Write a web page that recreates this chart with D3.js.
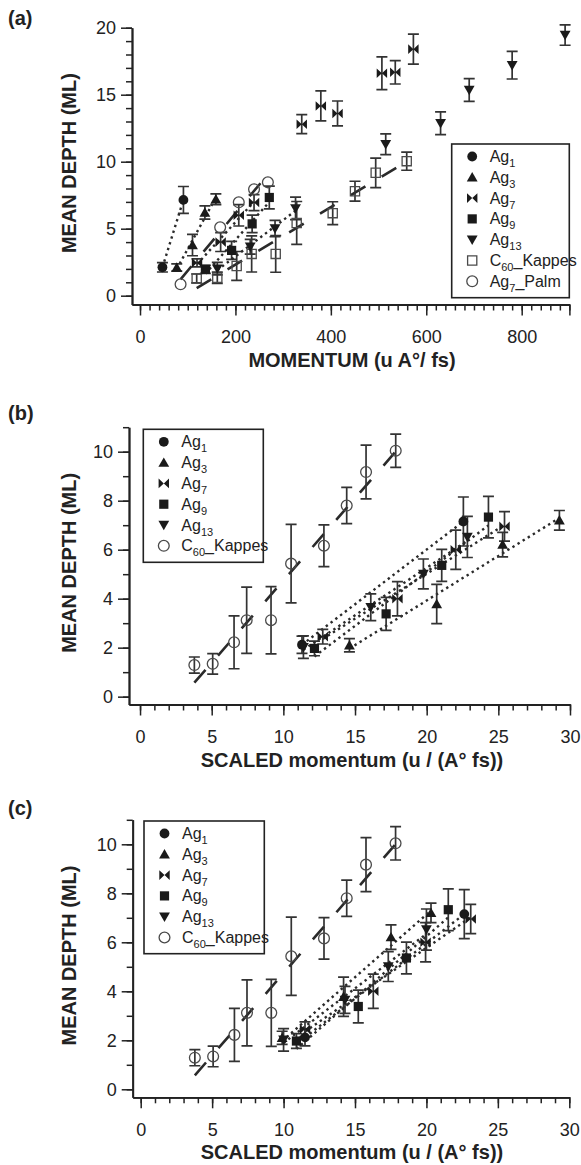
<!DOCTYPE html>
<html lang="en">
<head>
<meta charset="utf-8">
<script src="https://d3js.org/d3.v7.min.js"></script>
<style>
  body { margin: 0; background: #fff; }
  svg text { font-family: "Liberation Sans", Arial, sans-serif; fill: #222; }
</style>
</head>
<body>
<div id="chart"></div>
<script>

// ---------- data ----------

// mean depth (ML) and its error, same in all three panels
const depthAg1 = [2.12, 7.15];
const errAg1   = [0.35, 1.0];
const depthAg3 = [2.1, 3.78, 6.21, 7.2];
const errAg3   = [0.27, 0.8, 0.5, 0.4];
const depthAg7 = [2.45, 4.0, 6.0, 6.95];
const errAg7   = [0.3, 0.7, 0.8, 0.6];
const depthAg9 = [1.97, 3.38, 5.36, 7.33];
const errAg9   = [0.3, 0.67, 0.65, 0.85];
const depthAg13 = [2.02, 3.65, 5.01, 6.52];
const errAg13   = [0.46, 0.55, 0.61, 0.84];
const depthC60 = [1.29, 1.34, 2.22, 3.12, 3.12, 5.43, 6.16, 7.8, 9.17, 10.04];
const errC60   = [0.33, 0.42, 1.08, 1.35, 1.37, 1.6, 0.85, 0.74, 1.1, 0.68];

// panel (a): momentum (u A°/fs)
const momAg1  = [47, 91];
const momAg3  = [77, 110, 136, 159];
const momAg7  = [119.5, 169, 207, 239];
const momAg9  = [137, 192, 235, 271];
const momAg13 = [162, 231, 283, 326];
const momC60  = [118.8, 162, 202.6, 234, 284.4, 328.4, 403.9, 450.6, 494, 559];
// panel (a) only: high-momentum Ag7 / Ag13 points and Ag7_Palm
const momAg7High   = [339, 379, 414, 507, 535, 573];
const depthAg7High = [12.8, 14.16, 13.6, 16.6, 16.67, 18.4];
const errAg7High   = [0.71, 1.12, 0.93, 1.22, 0.87, 1.12];
const momAg13High   = [515, 630, 690, 780, 891];
const depthAg13High = [11.3, 12.87, 15.35, 17.2, 19.45];
const errAg13High   = [0.77, 0.85, 0.85, 1.03, 0.76];
const momPalm   = [85, 168, 207, 239, 268];
const depthPalm = [0.85, 5.1, 6.97, 7.94, 8.46];

// panel (b): scaled momentum
const scaledB_Ag1  = [11.3, 22.56];
const scaledB_Ag3  = [14.61, 20.7, 25.3, 29.26];
const scaledB_Ag7  = [12.75, 17.96, 22.03, 25.43];
const scaledB_Ag9  = [12.17, 17.17, 21.05, 24.31];
const scaledB_Ag13 = [11.4, 16.1, 19.77, 22.84];
const scaledC60    = [3.79, 5.07, 6.56, 7.44, 9.14, 10.54, 12.83, 14.42, 15.77, 17.84];

// panel (c): scaled momentum
const scaledC_Ag1  = [11.5, 22.65];
const scaledC_Ag3  = [9.9, 14.2, 17.52, 20.32];
const scaledC_Ag7  = [11.5, 16.28, 19.94, 23.1];
const scaledC_Ag9  = [10.9, 15.23, 18.6, 21.53];
const scaledC_Ag13 = [10.0, 14.3, 17.33, 20.0];

// axis ticks
const xTicksA = [0, 200, 400, 600, 800, 900];
const yTicksA = [0, 5, 10, 15, 20];
const xTicksBC = [0, 5, 10, 15, 20, 25, 30];
const yTicksBC = [0, 2, 4, 6, 8, 10];

// legend entries: base text, subscript, tail
const legendBase = ["Ag", "Ag", "Ag", "Ag", "Ag", "C", "Ag"];
const legendSub  = ["1", "3", "7", "9", "13", "60", "7"];
const legendTail = ["", "", "", "", "", "_Kappes", "_Palm"];
const legendShapeA  = ["circle", "triUp", "bowtie", "square", "triDown", "openSquare", "openCircle"];
const legendShapeBC = ["circle", "triUp", "bowtie", "square", "triDown", "openCircle"];

// ---------- drawing ----------

const svg = d3.select("#chart").append("svg")
  .attr("width", 581).attr("height", 1165);

const INK = "#222";

function markerPath(shape) {
  switch (shape) {
    case "triUp":   return "M0,-5.2L5.4,4.2L-5.4,4.2Z";
    case "triDown": return "M0,5.2L5.4,-4.2L-5.4,-4.2Z";
    case "square":
    case "openSquare": return "M-4.6,-4.6H4.6V4.6H-4.6Z";
    case "bowtie":  return "M-5.2,-4.8L0,0L-5.2,4.8ZM5.2,-4.8L0,0L5.2,4.8Z";
  }
  return null;
}

function drawMarker(g, shape, cx, cy) {
  const open = shape === "openCircle" || shape === "openSquare";
  let m;
  if (shape === "circle" || shape === "openCircle") {
    m = g.append("circle").attr("cx", cx).attr("cy", cy)
      .attr("r", open ? 5.4 : 4.9);
  } else {
    m = g.append("path").attr("d", markerPath(shape))
      .attr("transform", `translate(${cx},${cy})`);
  }
  if (open) m.attr("fill", "none").attr("stroke", "#4a4a4a").attr("stroke-width", 1.3);
  else m.attr("fill", "#1a1a1a");
}

function linFit(xs, ys) {
  const mx = d3.mean(xs), my = d3.mean(ys);
  let sxy = 0, sxx = 0;
  xs.forEach((v, i) => { sxy += (v - mx) * (ys[i] - my); sxx += (v - mx) * (v - mx); });
  const b = sxy / sxx;
  return v => my + b * (v - mx);
}

function drawPanel(p) {
  const x = d3.scaleLinear().domain(p.xDomain).range(p.xRange);
  const y = d3.scaleLinear().domain(p.yDomain).range(p.yRange);
  const g = svg.append("g");
  const yBottom = p.yRange[0], xLeft = p.xRange[0];

  // axes: minor then major ticks
  const axes = g.append("g");
  axes.append("g").attr("transform", `translate(0,${yBottom})`)
    .call(d3.axisBottom(x).tickValues(p.xMinor).tickSize(6).tickSizeOuter(0).tickFormat(""));
  axes.append("g").attr("transform", `translate(0,${yBottom})`)
    .call(d3.axisBottom(x).tickValues(p.xMajor).tickSize(11).tickSizeOuter(0)
      .tickPadding(15).tickFormat(p.xFormat));
  axes.append("g").attr("transform", `translate(${xLeft},0)`)
    .call(d3.axisLeft(y).tickValues(p.yMinor).tickSize(6).tickSizeOuter(0).tickFormat(""));
  axes.append("g").attr("transform", `translate(${xLeft},0)`)
    .call(d3.axisLeft(y).tickValues(p.yMajor).tickSize(11).tickSizeOuter(0)
      .tickPadding(5).tickFormat(d3.format("d")));
  axes.selectAll(".domain").attr("stroke", INK).attr("stroke-width", 1.8);
  axes.selectAll(".tick line").attr("stroke", INK).attr("stroke-width", 1.5);
  axes.selectAll(".tick text").style("font-size", "18px").attr("fill", INK);

  // titles
  g.append("text").attr("x", 8).attr("y", p.labelY)
    .style("font-size", "20px").style("font-weight", "bold").text(p.label);
  g.append("text")
    .attr("transform", `translate(76,${(p.yRange[0] + p.yRange[1]) / 2 - 3}) rotate(-90)`)
    .attr("text-anchor", "middle").style("font-size", "20px").style("font-weight", "bold")
    .text("MEAN DEPTH (ML)");
  g.append("text").attr("x", 352).attr("y", yBottom + 62)
    .attr("text-anchor", "middle").style("font-size", "20px").style("font-weight", "bold")
    .text(p.xTitle);

  const plot = g.append("g");

  p.series.forEach(s => {
    // fit line
    if (s.fit) {
      const f = linFit(s.x, s.y);
      const x0 = d3.min(s.x), x1 = d3.max(s.x);
      plot.append("line")
        .attr("x1", x(x0)).attr("y1", y(f(x0)))
        .attr("x2", x(x1)).attr("y2", y(f(x1)))
        .attr("stroke", "#2a2a2a")
        .attr("stroke-width", s.fit === "dash" ? 2.6 : 2.4)
        .attr("stroke-dasharray", s.fit === "dash" ? "17,19" : "2.4,3.6");
    }
    // error bars
    if (s.e) {
      s.x.forEach((v, i) => {
        const cx = x(v), lo = y(s.y[i] - s.e[i]), hi = y(s.y[i] + s.e[i]);
        plot.append("path")
          .attr("d", `M${cx},${lo}V${hi}M${cx - 5.5},${lo}H${cx + 5.5}M${cx - 5.5},${hi}H${cx + 5.5}`)
          .attr("fill", "none").attr("stroke", "#333").attr("stroke-width", 1.7);
      });
    }
  });
  p.series.forEach(s => {
    s.x.forEach((v, i) => drawMarker(plot, s.shape, x(v), y(s.y[i])));
  });

  // legend
  const L = p.legend;
  const lg = g.append("g");
  lg.append("rect").attr("x", L.x).attr("y", L.y).attr("width", L.w).attr("height", L.h)
    .attr("fill", "#fff").attr("stroke", INK).attr("stroke-width", 1.6);
  L.shapes.forEach((shape, i) => {
    const ry = L.y + 12.5 + i * 20.8;
    drawMarker(lg, shape, L.x + 20.5, ry);
    const t = lg.append("text").attr("x", L.x + 38).attr("y", ry + 5.5)
      .style("font-size", "16px");
    t.append("tspan").text(legendBase[i]);
    t.append("tspan").attr("dy", 5).style("font-size", "11px").text(legendSub[i]);
    if (legendTail[i]) t.append("tspan").attr("dy", -5).text(legendTail[i]);
  });
}

const shapes = { Ag1: "circle", Ag3: "triUp", Ag7: "bowtie", Ag9: "square", Ag13: "triDown" };

function agSeries(xs) {
  return [
    { x: xs[0], y: depthAg1,  e: errAg1,  shape: shapes.Ag1,  fit: "dot" },
    { x: xs[1], y: depthAg3,  e: errAg3,  shape: shapes.Ag3,  fit: "dot" },
    { x: xs[2], y: depthAg7,  e: errAg7,  shape: shapes.Ag7,  fit: "dot" },
    { x: xs[3], y: depthAg9,  e: errAg9,  shape: shapes.Ag9,  fit: "dot" },
    { x: xs[4], y: depthAg13, e: errAg13, shape: shapes.Ag13, fit: "dot" }
  ];
}

// panel (a)
drawPanel({
  label: "(a)", labelY: 25, xTitle: "MOMENTUM (u A°/ fs)",
  xDomain: [-16.8, 900], xRange: [132, 569.4],
  yDomain: [-0.657, 20], yRange: [304.5, 27.7],
  xMajor: xTicksA, xMinor: d3.range(0, 901, 20), xFormat: d => d === 900 ? "" : d,
  yMajor: yTicksA, yMinor: d3.range(0, 21, 1),
  series: [
    { x: momC60, y: depthC60, e: errC60, shape: "openSquare", fit: "dash" },
    { x: momPalm, y: depthPalm, e: null, shape: "openCircle", fit: "dash" },
    ...agSeries([momAg1, momAg3, momAg7, momAg9, momAg13]),
    { x: momAg7High, y: depthAg7High, e: errAg7High, shape: shapes.Ag7, fit: null },
    { x: momAg13High, y: depthAg13High, e: errAg13High, shape: shapes.Ag13, fit: null }
  ],
  legend: { x: 451.7, y: 144, w: 117.6, h: 153.7, shapes: legendShapeA }
});

// panel (b)
drawPanel({
  label: "(b)", labelY: 420, xTitle: "SCALED momentum (u / (A° fs))",
  xDomain: [-0.77, 30], xRange: [129, 570],
  yDomain: [-0.32, 11], yRange: [704.5, 427.2],
  xMajor: xTicksBC, xMinor: d3.range(0, 31, 1), xFormat: d3.format("d"),
  yMajor: yTicksBC, yMinor: d3.range(0, 12, 1),
  series: [
    { x: scaledC60, y: depthC60, e: errC60, shape: "openCircle", fit: "dash" },
    ...agSeries([scaledB_Ag1, scaledB_Ag3, scaledB_Ag7, scaledB_Ag9, scaledB_Ag13])
  ],
  legend: { x: 143.3, y: 429.3, w: 120, h: 133, shapes: legendShapeBC }
});

// panel (c)
drawPanel({
  label: "(c)", labelY: 815, xTitle: "SCALED momentum (u / (A° fs))",
  xDomain: [-0.56, 30], xRange: [132.7, 569.3],
  yDomain: [-0.327, 11], yRange: [1097.3, 819.8],
  xMajor: xTicksBC, xMinor: d3.range(0, 31, 1), xFormat: d3.format("d"),
  yMajor: yTicksBC, yMinor: d3.range(0, 12, 1),
  series: [
    { x: scaledC60, y: depthC60, e: errC60, shape: "openCircle", fit: "dash" },
    ...agSeries([scaledC_Ag1, scaledC_Ag3, scaledC_Ag7, scaledC_Ag9, scaledC_Ag13])
  ],
  legend: { x: 144, y: 821, w: 120.3, h: 132.7, shapes: legendShapeBC }
});

</script>
</body>
</html>
